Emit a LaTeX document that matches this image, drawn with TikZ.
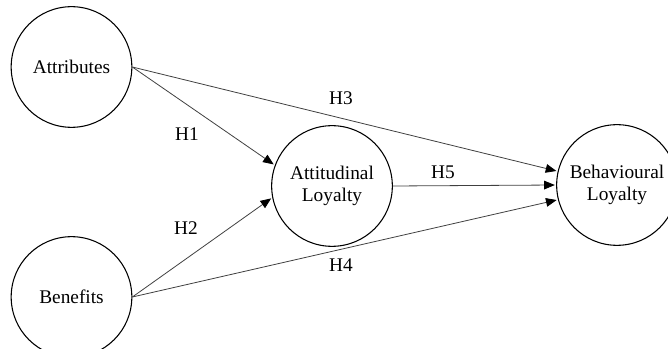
\documentclass[tikz,border=0pt]{standalone}
\usepackage{fontspec}
\setmainfont{Liberation Serif}
\usetikzlibrary{arrows.meta,positioning}

\tikzset{
  construct/.style={draw, circle, line width=0.8pt, minimum size=90.5pt, inner sep=0pt, align=center, font=\fontsize{14.5}{17}\selectfont},
  hypo/.style={draw=black!75, line width=0.6pt, -{Triangle[length=8pt,width=6.5pt,color=black]}, shorten >=1pt},
  hlabel/.style={inner sep=0.75pt, font=\fontsize{14.5}{17}\selectfont}
}

\begin{document}
\begin{tikzpicture}[x=0.75pt,y=0.75pt,yscale=-1,xscale=1]
\clip (0,0) rectangle (668,349);
\useasboundingbox (0,0) rectangle (668,349);

%Shape: Circle [constructs]
\node[construct] (attr) at (71.5,67) {Attributes};
\node[construct] (ben) at (71.5,297) {Benefits};
\node[construct] (att) at (332,186) {Attitudinal\\Loyalty};
\node[construct] (beh) at (617,185) {Behavioural\\Loyalty};

%Straight Lines [paths]
\draw[hypo] (attr.east) -- (att.160);
\draw[hypo] (ben.east) -- (att.191);
\draw[hypo] (attr.east) -- (beh.167);
\draw[hypo] (att.east) -- (beh.west);
\draw[hypo] (ben.east) -- (beh.194);

% Text Node
\node[hlabel] (h1) at (187,134) {H1};
% Text Node
\node[hlabel] (h2) at (186,228) {H2};
% Text Node
\node[hlabel] (h3) at (341,98) {H3};
% Text Node
\node[hlabel] (h4) at (341,265) {H4};
% Text Node
\node[hlabel] (h5) at (443,172) {H5};

\end{tikzpicture}
\end{document}
